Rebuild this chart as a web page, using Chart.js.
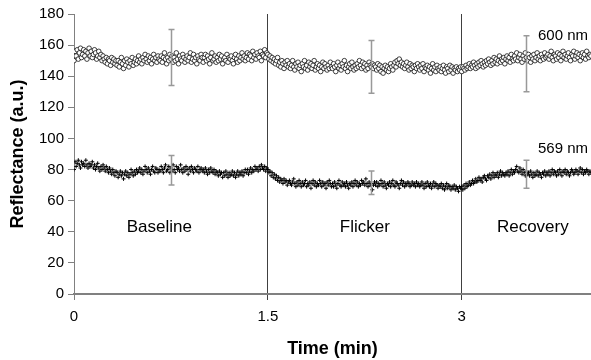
<!DOCTYPE html>
<html>
<head>
<meta charset="utf-8">
<script src="https://cdn.jsdelivr.net/npm/chart.js@4.4.1/dist/chart.umd.min.js"></script>
<style>
html,body{margin:0;padding:0;background:#fff;}
#wrap{width:591px;height:360px;position:relative;}
</style>
</head>
<body>
<div id="wrap"><canvas id="c" width="591" height="360"></canvas></div>
<script>
// sample interval in minutes (0.5 s)
const sampleStepMin = 0.5 / 60;

// Reflectance at 600 nm (a.u.), one reading every 0.5 s
const r600 = [
150,156,153,157,151,155,158,152,154,157,153,156,151,155,158,153,156,152,154,157,155,151,153,156,152,154,150,153,151,149,152,148,151,150,147,152,149,151,148,150,
147,150,146,149,152,148,145,150,147,151,149,146,150,148,152,147,149,151,148,150,153,149,151,148,152,150,154,151,149,153,150,152,148,151,154,150,152,149,153,151,
150,153,149,152,155,151,148,152,150,154,151,153,149,152,150,155,151,148,153,151,150,154,152,149,151,153,150,152,155,149,151,154,150,152,148,153,151,150,154,152,
149,152,154,150,153,151,148,152,155,150,151,153,149,152,150,154,151,153,148,151,152,150,154,149,152,151,153,150,148,152,154,151,149,153,150,152,155,151,153,150,
152,155,151,154,153,150,156,152,154,151,155,153,152,156,150,154,153,157,152,155,154,151,153,150,152,149,151,148,150,152,147,149,146,150,148,145,149,147,150,146,
148,145,147,150,146,144,148,146,149,145,147,143,148,146,150,145,147,144,149,146,148,145,147,150,144,146,148,145,147,143,146,149,145,148,146,144,147,145,149,146,
145,148,146,143,147,149,145,147,144,148,146,150,145,147,143,146,148,145,149,146,144,147,145,148,146,150,147,145,149,146,148,144,147,145,149,147,146,148,145,147,
146,144,148,145,147,143,146,142,145,147,144,146,143,145,148,146,144,147,149,146,150,148,151,147,149,146,148,145,147,149,146,144,148,145,147,146,143,147,145,148,
146,144,147,145,148,143,146,145,147,144,146,142,145,148,144,146,143,147,145,144,146,143,145,147,144,142,146,145,143,147,144,146,142,145,144,146,143,145,144,146,
143,146,145,144,147,145,146,148,145,147,146,149,147,145,148,146,149,147,150,148,146,149,147,150,148,151,149,147,150,148,152,149,151,148,150,153,149,151,150,152,
148,151,153,150,152,149,154,151,150,153,151,155,150,152,154,151,149,153,151,155,152,150,154,152,149,153,151,154,150,152,155,151,153,150,154,152,151,155,152,153,
154,151,153,156,152,150,154,153,151,155,152,154,150,153,156,152,154,151,153,155,152,150,154,153,156,151,153,155,152,154,150,153,155,152,154,151,156,153,152,154,
153
];

// Reflectance at 569 nm (a.u.)
const r569 = [
80,85,82,84,86,83,81,85,83,84,82,86,83,81,84,82,83,85,81,83,80,82,84,81,79,82,80,83,81,79,82,80,78,81,79,77,80,78,76,79,
78,75,77,79,76,78,74,77,79,76,78,75,77,80,78,76,79,77,80,78,79,81,78,80,77,79,82,80,78,81,79,77,80,82,79,78,81,80,78,80,
79,82,80,78,81,83,79,80,82,78,81,79,83,80,78,82,80,81,79,83,80,78,81,79,82,80,77,81,79,82,80,78,81,80,79,82,78,80,81,79,
80,78,81,79,77,80,78,81,79,78,80,77,79,78,76,79,77,78,75,78,76,79,77,75,78,76,77,79,76,78,75,77,79,76,78,77,79,76,78,80,
78,80,77,79,81,78,80,79,82,80,81,79,82,80,83,81,80,82,79,81,80,78,79,76,78,75,77,74,76,73,75,72,74,73,71,74,72,73,70,72,
73,71,70,72,74,71,69,72,70,73,71,69,72,70,71,73,69,71,70,72,68,71,73,70,72,69,71,70,73,71,69,72,70,71,68,72,70,73,71,69,
71,69,72,70,68,71,73,70,69,72,70,71,69,72,70,68,71,70,72,69,71,73,70,72,69,71,70,73,71,72,70,74,71,69,72,70,71,67,70,72,
70,72,69,71,70,73,71,69,72,70,68,71,70,72,69,71,73,70,69,72,71,70,68,71,73,70,72,69,71,70,72,71,69,70,72,70,71,69,72,70,
71,69,70,72,70,68,71,69,72,70,69,71,68,70,72,69,71,70,68,70,69,71,68,70,67,69,71,68,70,69,67,69,68,70,67,69,68,66,69,68,
69,67,70,68,71,69,70,72,70,71,73,71,72,74,72,73,75,73,74,72,75,76,74,73,76,75,77,74,76,78,75,77,76,78,75,77,79,76,78,77,
76,78,77,79,76,78,80,77,79,78,80,82,79,78,81,79,77,80,78,76,79,77,78,76,79,77,75,78,76,77,79,76,78,77,75,78,77,79,76,78,
77,79,76,78,80,77,79,78,76,79,77,80,78,76,79,78,80,77,79,78,76,78,80,79,77,78,80,79,77,79,81,78,80,77,79,78,80,79,77,79,
78
];

// Error bars (mean ± SD) per phase
const errTime = [0.75, 2.3, 3.5];
const err600Low = [134, 129, 130];
const err600High = [170, 163, 166];
const err569Low = [70, 64, 68];
const err569High = [89, 79, 86];

// Axis ticks
const xTicks = [0, 1.5, 3];
const yTicks = [0, 20, 40, 60, 80, 100, 120, 140, 160, 180];

// Text labels
const phaseLabels = ['Baseline', 'Flicker', 'Recovery'];
const phaseLabelTime = [0.66, 2.25, 3.55];
const phaseLabelValue = 43;
const seriesLabels = ['600 nm', '569 nm'];
const seriesLabelTime = 3.59;
const seriesLabelValue = [166, 93];

const toPoints = arr => arr.map((v, i) => ({x: i * sampleStepMin, y: v}));

const annot = {
  id: 'annot',
  afterDatasetsDraw(chart) {
    const {ctx, scales: {x, y}} = chart;
    ctx.save();
    ctx.strokeStyle = '#999999';
    ctx.lineWidth = 1.5;
    const drawBar = (t, lo, hi) => {
      const px = Math.round(x.getPixelForValue(t)) + 0.5;
      const p1 = y.getPixelForValue(lo), p2 = y.getPixelForValue(hi);
      ctx.beginPath();
      ctx.moveTo(px, p1); ctx.lineTo(px, p2);
      ctx.moveTo(px - 3, p1); ctx.lineTo(px + 3, p1);
      ctx.moveTo(px - 3, p2); ctx.lineTo(px + 3, p2);
      ctx.stroke();
    };
    errTime.forEach((t, i) => {
      drawBar(t, err600Low[i], err600High[i]);
      drawBar(t, err569Low[i], err569High[i]);
    });
    ctx.fillStyle = '#000';
    ctx.textBaseline = 'middle';
    ctx.textAlign = 'center';
    ctx.font = '17px "Liberation Sans", Arial, sans-serif';
    phaseLabels.forEach((s, i) => {
      ctx.fillText(s, x.getPixelForValue(phaseLabelTime[i]), y.getPixelForValue(phaseLabelValue));
    });
    ctx.textAlign = 'left';
    ctx.font = '15px "Liberation Sans", Arial, sans-serif';
    seriesLabels.forEach((s, i) => {
      ctx.fillText(s, x.getPixelForValue(seriesLabelTime), y.getPixelForValue(seriesLabelValue[i]));
    });
    ctx.restore();
  }
};

new Chart(document.getElementById('c'), {
  type: 'scatter',
  data: {
    datasets: [
      {
        label: '600 nm',
        data: toPoints(r600),
        pointStyle: 'circle',
        pointRadius: 2.3,
        pointBorderWidth: 0.8,
        pointBorderColor: '#111111',
        pointBackgroundColor: '#ffffff',
        showLine: false
      },
      {
        label: '569 nm',
        data: toPoints(r569),
        pointStyle: 'cross',
        pointRadius: 2,
        pointBorderWidth: 1,
        pointBorderColor: '#000000',
        pointBackgroundColor: '#000000',
        showLine: false
      }
    ]
  },
  options: {
    responsive: false,
    animation: false,
    events: [],
    layout: {autoPadding: false, padding: {top: 14, right: 0, left: 0, bottom: 0}},
    plugins: {legend: {display: false}, tooltip: {enabled: false}},
    scales: {
      x: {
        type: 'linear',
        min: 0,
        max: 4,
        afterBuildTicks(scale) { scale.ticks = xTicks.map(v => ({value: v})); },
        afterFit(scale) { scale.height = 66; scale.paddingRight = 0; scale.paddingLeft = 0; },
        border: {display: true, color: '#808080', width: 2},
        grid: {
          display: true,
          drawOnChartArea: true,
          drawTicks: true,
          tickLength: 6,
          lineWidth: 1,
          color: ctx => (ctx.tick && ctx.tick.value === 0) ? '#808080' : '#404040'
        },
        ticks: {
          padding: 8,
          color: '#000',
          font: {family: '"Liberation Sans", Arial, sans-serif', size: 15},
          callback: v => String(v)
        },
        title: {
          display: true,
          text: 'Time (min)',
          color: '#000',
          font: {family: '"Liberation Sans", Arial, sans-serif', size: 18, weight: 'bold'},
          padding: {top: 0, bottom: 0}
        }
      },
      y: {
        type: 'linear',
        min: 0,
        max: 180,
        afterBuildTicks(scale) { scale.ticks = yTicks.map(v => ({value: v})); },
        afterFit(scale) { scale.width = 74; scale.paddingTop = 0; scale.paddingBottom = 0; },
        border: {display: true, color: '#808080', width: 1},
        grid: {
          display: true,
          drawOnChartArea: false,
          drawTicks: true,
          tickLength: 6,
          color: '#808080'
        },
        ticks: {
          padding: 4,
          color: '#000',
          font: {family: '"Liberation Sans", Arial, sans-serif', size: 15}
        },
        title: {
          display: true,
          text: 'Reflectance (a.u.)',
          color: '#000',
          font: {family: '"Liberation Sans", Arial, sans-serif', size: 18, weight: 'bold'},
          padding: {top: 7, bottom: 0}
        }
      }
    }
  },
  plugins: [annot]
});
</script>
</body>
</html>
